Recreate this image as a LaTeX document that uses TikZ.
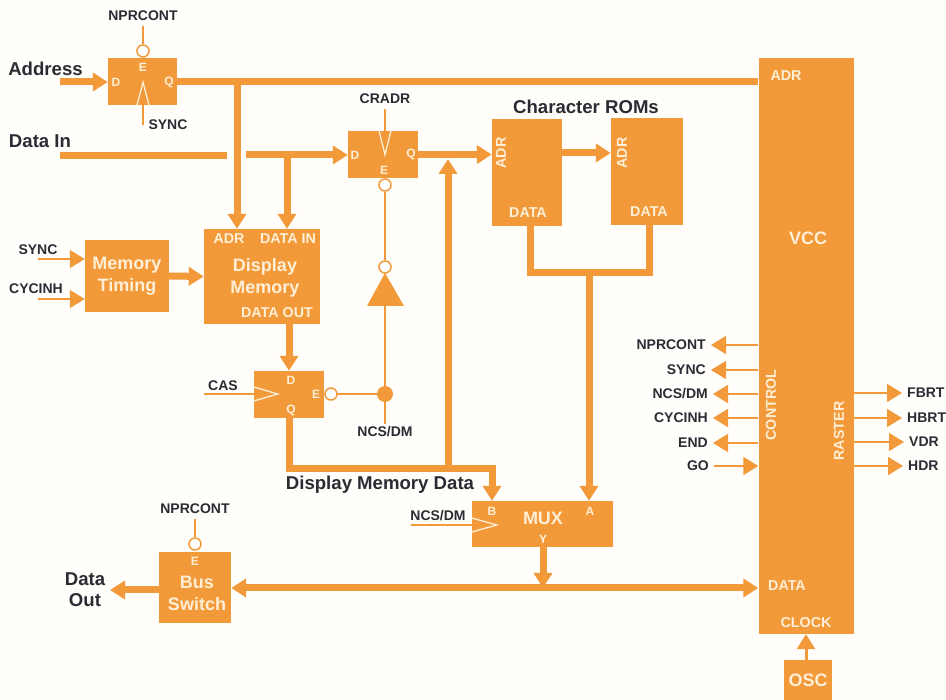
\documentclass[tikz,border=0pt]{standalone}
\usepackage{fontspec}
\setmainfont{Liberation Sans}[Ligatures=TeX]
\usetikzlibrary{arrows.meta}
\definecolor{blockorange}{HTML}{F29A3A}
\definecolor{pincream}{HTML}{FFEFD6}
\definecolor{labelink}{HTML}{2B2B33}
\definecolor{paper}{HTML}{FFFEFB}
\tikzset{
block/.style={fill=blockorange, inner sep=0pt, text=pincream, align=center, font=\bfseries\fontsize{18}{22}\selectfont},
pinlab/.style={text=pincream, inner sep=0pt, font=\bfseries\fontsize{14.3}{15}\selectfont},
letterpin/.style={text=pincream, inner sep=0pt, font=\bfseries\fontsize{12}{13}\selectfont},
sig/.style={text=labelink, inner sep=5pt, font=\bfseries\fontsize{14}{15}\selectfont},
head/.style={text=labelink, inner sep=0pt, align=center, font=\bfseries\fontsize{18.6}{21}\selectfont},
bus/.style={draw=blockorange, line width=7pt},
wire/.style={draw=blockorange, line width=1.5pt},
tip/.style={-{Triangle[length=15pt,width=18pt,color=blockorange]}},
tiptwo/.style={{Triangle[length=15pt,width=18pt,color=blockorange]}-{Triangle[length=15pt,width=18pt,color=blockorange]}},
bubble/.style={circle, draw=blockorange, line width=1.5pt, fill=white, minimum size=12pt, inner sep=0pt},
clk/.style={draw=pincream, line width=1.3pt}
}
\begin{document}
\begin{tikzpicture}[x=1pt, y=-1pt]
\fill[paper] (0,0) rectangle (946,700);
\useasboundingbox (0,0) rectangle (946,700);
\node[block, minimum width=69pt, minimum height=47pt] (addrLatch) at (142.5,81.5) {};
\node[block, minimum width=70pt, minimum height=47pt] (charLatch) at (383,154.5) {};
\node[block, minimum width=84pt, minimum height=72pt] (memTiming) at (127,276) {Memory\\Timing};
\node[block, minimum width=116pt, minimum height=95pt] (dispMem) at (262,276.5) {};
\node[block, minimum width=70pt, minimum height=47pt] (casLatch) at (289,394.5) {};
\node[block, minimum width=72pt, minimum height=71pt] (busSwitch) at (195,587.5) {};
\node[block, minimum width=141pt, minimum height=46pt] (muxBlock) at (542.5,524) {};
\node[block, minimum width=70pt, minimum height=107pt] (romOne) at (527,172.5) {};
\node[block, minimum width=72pt, minimum height=107pt] (romTwo) at (647,171.5) {};
\node[block, minimum width=95pt, minimum height=576pt] (vcc) at (806,346) {};
\node[block, minimum width=48pt, minimum height=40pt] (osc) at (808,680) {OSC};
\node[letterpin] (addrD) at (116,82) {D};
\node[letterpin] (addrE) at (143,67) {E};
\node[letterpin] (addrQ) at (169,82) {Q};
\node[letterpin] (charD) at (355,155) {D};
\node[letterpin] (charE) at (384,170) {E};
\node[letterpin] (charQ) at (411,154) {Q};
\node[pinlab] (memAdr) at (229,239) {ADR};
\node[pinlab] (memIn) at (288,239) {DATA IN};
\node[pinlab] (memOut) at (277,313) {DATA OUT};
\node[block, fill=none] (memName) at (265,277.5) {Display\\Memory};
\node[letterpin] (casD) at (291,380) {D};
\node[letterpin] (casE) at (316,394) {E};
\node[letterpin] (casQ) at (291,410) {Q};
\node[letterpin] (busE) at (195,561) {E};
\node[block, fill=none] (busName) at (197,593) {Bus\\Switch};
\node[letterpin] (muxB) at (492,511) {B};
\node[letterpin] (muxA) at (590,511) {A};
\node[letterpin] (muxY) at (543,539) {Y};
\node[block, fill=none] (muxName) at (543,518) {MUX};
\node[pinlab, rotate=90] (romAdrOne) at (501,153) {ADR};
\node[pinlab, rotate=90] (romAdrTwo) at (622,153) {ADR};
\node[pinlab] (romDataOne) at (528,213) {DATA};
\node[pinlab] (romDataTwo) at (649,212) {DATA};
\node[pinlab] (vccAdr) at (786,76) {ADR};
\node[block, fill=none] (vccName) at (808,238) {VCC};
\node[pinlab, rotate=90] (vccCtl) at (771,405) {CONTROL};
\node[pinlab, rotate=90] (vccRas) at (839,431) {RASTER};
\node[pinlab] (vccData) at (787,586) {DATA};
\node[pinlab] (vccClk) at (806,623) {CLOCK};
\node[head] (addrLab) at (45.5,69) {Address};
\node[head] (dataInLab) at (40,141) {Data In};
\node[head] (romLab) at (586,107) {Character ROMs};
\node[head] (dmdLab) at (380,485) {Display Memory Data};
\node[head] (dataOutLab) at (85,590) {Data\\Out};
\node[sig] (nprTop) at (143,16) {NPRCONT};
\node[sig, inner sep=0pt] (syncTop) at (168,125) {SYNC};
\node[sig] (cradr) at (385,99) {CRADR};
\node[sig, inner sep=0pt] (syncMem) at (38,250) {SYNC};
\node[sig, inner sep=0pt] (cycMem) at (36,289) {CYCINH};
\node[sig, inner sep=0pt] (casLab) at (223,386) {CAS};
\node[sig, inner sep=3pt] (ncsLab) at (385,432) {NCS/DM};
\node[sig, inner sep=0pt] (ncsMux) at (438,516) {NCS/DM};
\node[sig] (nprBus) at (195,509) {NPRCONT};
\node[sig, anchor=east] (outNpr) at (711,345) {NPRCONT};
\node[sig, anchor=east] (outSync) at (711,370) {SYNC};
\node[sig, anchor=east] (outNcs) at (713,394) {NCS/DM};
\node[sig, anchor=east] (outCyc) at (713,418) {CYCINH};
\node[sig, anchor=east] (outEnd) at (713,443) {END};
\node[sig, anchor=east] (inGo) at (714,466) {GO};
\node[sig, anchor=west] (outF) at (902,393) {FBRT};
\node[sig, anchor=west] (outH) at (902,418) {HBRT};
\node[sig, anchor=west] (outV) at (904,442) {VDR};
\node[sig, anchor=west] (outD) at (903,466) {HDR};
\node[bubble] (addrBub) at (143,51) {};
\node[bubble] (charBub) at (385,185) {};
\node[bubble] (invBub) at (385,267) {};
\node[bubble] (casBub) at (331,394) {};
\node[bubble] (busBub) at (195,544) {};
\node[circle, fill=blockorange, minimum size=16pt, inner sep=0pt] (ncsDot) at (385,394) {};
\coordinate (addrIn) at (60,82);
\coordinate (dataInA) at (60,156);
\coordinate (dataInB) at (227,156);
\coordinate (dataInC) at (246,155);
\coordinate (adrTap) at (237,81);
\coordinate (dataTap) at (287,155);
\coordinate (dmdCorner) at (289,469);
\coordinate (dmdRight) at (492,469);
\coordinate (dmdTap) at (448,469);
\coordinate (dmdTop) at (448,159);
\coordinate (romJoin) at (589,273);
\coordinate (romLeft) at (530,273);
\coordinate (romRight) at (649,273);
\coordinate (muxTap) at (543,588);
\coordinate (dataOutEnd) at (110,590);
\coordinate (syncIn) at (38,259);
\coordinate (cycIn) at (38,299);
\coordinate (casIn) at (204,394);
\coordinate (ncsIn) at (411,525);
\coordinate (invTop) at (385,273);
\coordinate (invBase) at (385,306);
\draw[bus, tip] (addrIn) -- (addrLatch.west |- addrIn);
\draw[bus] (addrLatch.east) -- (vcc.west |- addrLatch.east);
\draw[bus, tip] (adrTap) -- (adrTap |- dispMem.north);
\draw[bus] (dataInA) -- (dataInB);
\draw[bus, tip] (dataInC) -- (charLatch.west |- dataInC);
\draw[bus, tip] (dataTap) -- (dataTap |- dispMem.north);
\draw[bus, tip] (charLatch.east) -- (romOne.west |- charLatch.east);
\draw[bus, tip] (romOne.east |- romAdrTwo) -- (romTwo.west |- romAdrTwo);
\draw[bus, tip] (memTiming.east) -- (dispMem.west);
\draw[bus, tip] (dispMem.south -| casLatch.north) -- (casLatch.north);
\draw[bus, tip] (casLatch.south) -- (dmdCorner) -- (dmdRight) -- (dmdRight |- muxBlock.north);
\draw[bus, tip] (dmdTap) -- (dmdTop);
\draw[bus] (romLeft |- romOne.south) -- (romLeft) -- (romRight) -- (romRight |- romTwo.south);
\draw[bus, tip] (romJoin) -- (romJoin |- muxBlock.north);
\draw[bus, tip] (muxTap |- muxBlock.south) -- (muxTap);
\draw[bus, tiptwo] (busSwitch.east |- muxTap) -- (vcc.west |- muxTap);
\draw[bus, tip] (busSwitch.west |- dataOutEnd) -- (dataOutEnd);
\draw[wire] (nprTop) -- (addrBub);
\draw[wire] (syncTop.west -| addrBub) -- (addrLatch.south -| addrBub);
\draw[wire] (cradr) -- (charLatch.north -| charBub);
\draw[wire] (charBub) -- (invBub);
\draw[wire] (invBase) -- (ncsDot);
\draw[wire] (ncsDot) -- (casBub);
\draw[wire] (ncsDot) -- (ncsLab);
\draw[wire] (nprBus) -- (busBub);
\draw[wire] (casIn) -- (casLatch.west |- casIn);
\draw[wire] (ncsIn) -- (muxBlock.west |- ncsIn);
\draw[wire, tip] (syncIn) -- (memTiming.west |- syncIn);
\draw[wire, tip] (cycIn) -- (memTiming.west |- cycIn);
\foreach \lab in {outNpr, outSync, outNcs, outCyc, outEnd} {\draw[wire, tip] (vcc.west |- \lab) -- (\lab.east);}
\draw[wire, tip] (inGo.east) -- (vcc.west |- inGo);
\foreach \lab in {outF, outH, outV, outD} {\draw[wire, tip] (vcc.east |- \lab) -- (\lab.west);}
\draw[wire, tip, line width=3pt] (osc.north -| vccClk) -- (vccClk |- vcc.south);
\fill[blockorange] (invTop) -- (invBase -| 404,0) -- (invBase -| 367,0) -- cycle;
\draw[clk] (addrLatch.south -| addrBub) ++(-6,0) -- ++(6,-23) -- ++(6,23);
\draw[clk] (charLatch.north -| charBub) ++(-6,0) -- ++(6,24) -- ++(6,-24);
\draw[clk] (casLatch.west |- casIn) ++(0,-7) -- ++(24,7) -- ++(-24,7);
\draw[clk] (muxBlock.west |- ncsIn) ++(0,-7) -- ++(25,7) -- ++(-25,7);
\end{tikzpicture}
\end{document}
